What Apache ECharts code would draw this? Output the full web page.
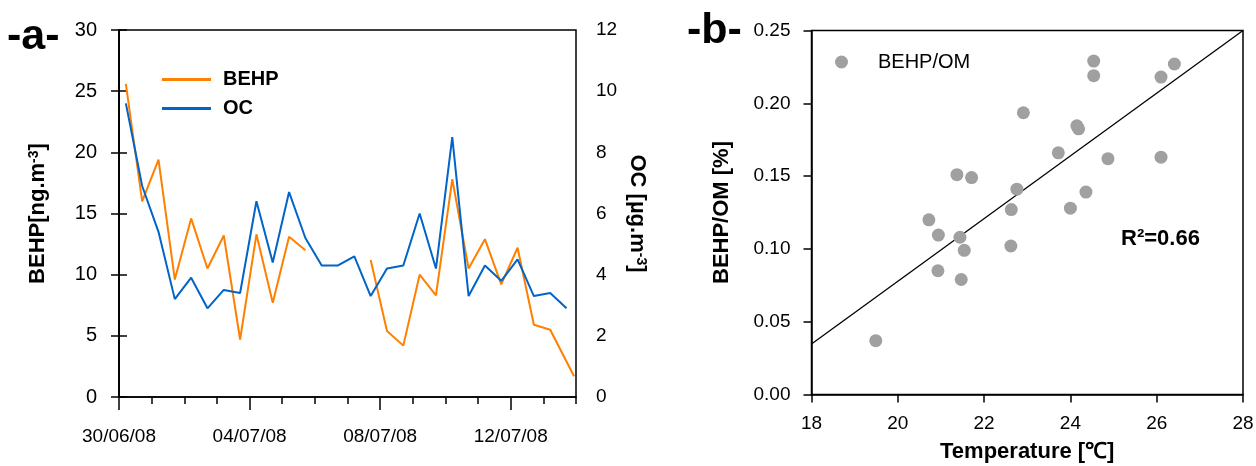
<!DOCTYPE html>
<html>
<head>
<meta charset="utf-8">
<script src="https://cdn.jsdelivr.net/npm/echarts@6/dist/echarts.min.js"></script>
<style>html,body{margin:0;padding:0;background:#fff}#c{width:1256px;height:466px}</style>
</head>
<body>
<div id="c"></div>
<script>
// ---- Panel a: time series (x in days since 30/06/08 00:00) ----
const ocDays   = [0.21,0.71,1.21,1.71,2.21,2.71,3.21,3.71,4.21,4.71,5.21,5.71,6.21,6.71,7.21,7.71,8.21,8.71,9.21,9.71,10.21,10.71,11.21,11.71,12.21,12.71,13.21,13.71];
const behpDays = [0.21,0.71,1.21,1.71,2.21,2.71,3.21,3.71,4.21,4.71,5.21,5.71,6.21,6.71,7.21,7.71,8.21,8.71,9.21,9.71,10.21,10.71,11.21,11.71,12.21,12.71,13.21,13.94];
const behpValues = [25.6,16.0,19.4,9.6,14.6,10.5,13.2,4.7,13.3,7.7,13.1,12.0,null,null,null,11.2,5.4,4.2,10.0,8.3,17.8,10.5,12.9,9.2,12.2,5.9,5.5,1.7];
const ocValues   = [9.6,6.9,5.4,3.2,3.9,2.9,3.5,3.4,6.4,4.4,6.7,5.2,4.3,4.3,4.6,3.3,4.2,4.3,6.0,4.2,8.5,3.3,4.3,3.8,4.5,3.3,3.4,2.9];
const dateTickDays = [0,4,8,12];
const dateTickLabels = ['30/06/08','04/07/08','08/07/08','12/07/08'];

// ---- Panel b: scatter ----
const temperature = [21.37,21.71,20.72,20.94,21.44,21.54,20.93,21.47,19.49,24.54,24.54,26.41,26.10,22.91,24.15,24.19,23.72,24.87,26.10,22.76,24.36,22.63,24.00,22.62];
const behpOm      = [0.151,0.149,0.120,0.1095,0.108,0.099,0.085,0.079,0.037,0.229,0.219,0.227,0.218,0.1935,0.1845,0.1825,0.166,0.162,0.163,0.141,0.139,0.127,0.128,0.102];
const fitSlope = 0.02153;
const fitIntercept = -0.3528;
const fitRange = [18, 28];
const r2Text = 'R²=0.66';

const FONT = "'Liberation Sans', Arial, sans-serif";
const black = '#000';

const behpData = behpDays.map((d,i)=>[d, behpValues[i]===null ? '-' : behpValues[i]]);
const ocData = ocDays.map((d,i)=>[d, ocValues[i]]);
const scatterData = temperature.map((t,i)=>[t, behpOm[i]]);
const fitData = fitRange.map(x=>[x, fitSlope*x + fitIntercept]);

const axisLineStyle = {show:true, lineStyle:{color:black, width:1.5}};
const tickStyle = (len, inside)=>({show:true, length:len, inside:!!inside, lineStyle:{color:black, width:1.5}});
const lbl = (margin, extra)=>Object.assign({color:black, fontSize:19, fontFamily:FONT, margin:margin}, extra||{});
const NAME_SIZE = 22;
const supRich = {sup:{fontSize:14, fontWeight:'bold', fontFamily:FONT, color:black, verticalAlign:'top'}};
const nameStyle = (extra)=>Object.assign({fontSize:NAME_SIZE, fontWeight:'bold', fontFamily:FONT, color:black}, extra||{});

const chart = echarts.init(document.getElementById('c'), null, {renderer:'canvas'});
chart.setOption({
  animation:false,
  backgroundColor:'#fff',
  grid:[
    {left:119, right:680, top:30, bottom:69, show:true, borderColor:black, borderWidth:1.5, containLabel:false, outerBoundsMode:'none'},
    {left:811.5, right:13, top:30.5, bottom:71.5, show:true, borderColor:black, borderWidth:1.5, containLabel:false, outerBoundsMode:'none'}
  ],
  legend:[
    {data:[{name:'BEHP', icon:'rect'},{name:'OC', icon:'rect'}], orient:'vertical', left:162, top:68, padding:0,
     itemWidth:49, itemHeight:3, itemGap:6,
     textStyle:{fontSize:20, fontWeight:'bold', fontFamily:FONT, color:black, padding:[0,0,0,7], lineHeight:23}},
    {data:[{name:'BEHP/OM', icon:'circle'}], left:835, top:52, padding:0, itemWidth:13, itemHeight:13,
     textStyle:{fontSize:20, fontFamily:FONT, color:black, padding:[0,0,0,25]}}
  ],
  xAxis:[
    {gridIndex:0, type:'value', min:0, max:14, interval:1, position:'bottom',
     axisLine:axisLineStyle, axisTick:tickStyle(7), axisLabel:{show:false}, splitLine:{show:false}},
    {gridIndex:0, type:'value', min:0, max:14, position:'bottom',
     axisLine:{show:false},
     axisTick:Object.assign(tickStyle(13), {customValues:dateTickDays}),
     axisLabel:lbl(30, {customValues:dateTickDays, formatter:(v)=>{const k=dateTickDays.indexOf(v);return k>=0?dateTickLabels[k]:'';}}),
     splitLine:{show:false}},
    {gridIndex:1, type:'value', min:18, max:28, interval:2,
     axisLine:axisLineStyle, axisTick:tickStyle(8), axisLabel:lbl(20), splitLine:{show:false},
     name:'Temperature [℃]', nameLocation:'middle', nameGap:46, nameTextStyle:nameStyle()}
  ],
  yAxis:[
    {gridIndex:0, type:'value', min:0, max:30, interval:5, position:'left',
     axisLine:axisLineStyle, axisTick:tickStyle(8), axisLabel:lbl(22, {fontSize:20}), splitLine:{show:false},
     name:'BEHP[ng.m{sup|-3}]', nameLocation:'middle', nameGap:70, nameRotate:90,
     nameTextStyle:nameStyle({rich:supRich})},
    {gridIndex:0, type:'value', min:0, max:12, interval:2, position:'right',
     axisLine:axisLineStyle, axisTick:tickStyle(8), axisLabel:lbl(20), splitLine:{show:false},
     name:'OC [µg.m{sup|-3}]', nameLocation:'middle', nameGap:50, nameRotate:-90,
     nameTextStyle:nameStyle({rich:supRich})},
    {gridIndex:1, type:'value', min:0, max:0.25, interval:0.05,
     axisLine:axisLineStyle, axisTick:tickStyle(8), axisLabel:lbl(21, {formatter:(v)=>v.toFixed(2)}), splitLine:{show:false},
     name:'BEHP/OM [%]', nameLocation:'middle', nameGap:79, nameRotate:90, nameTextStyle:nameStyle()}
  ],
  series:[
    {name:'BEHP', type:'line', xAxisIndex:0, yAxisIndex:0, data:behpData, symbol:'none', connectNulls:false,
     lineStyle:{color:'#ff8000', width:2}, itemStyle:{color:'#ff8000'}},
    {name:'OC', type:'line', xAxisIndex:0, yAxisIndex:1, data:ocData, symbol:'none',
     lineStyle:{color:'#0064c8', width:2}, itemStyle:{color:'#0064c8'}},
    {name:'Fit', type:'line', xAxisIndex:2, yAxisIndex:2, data:fitData, symbol:'none',
     lineStyle:{color:black, width:1.3}, z:1},
    {name:'BEHP/OM', type:'scatter', xAxisIndex:2, yAxisIndex:2, data:scatterData, symbolSize:13,
     itemStyle:{color:'#a0a0a0', opacity:1}, z:2}
  ],
  graphic:[
    {type:'text', x:7, y:37, style:{text:'-a-', font:"bold 43px "+FONT, fill:black, textVerticalAlign:'middle'}},
    {type:'text', x:687, y:31, style:{text:'-b-', font:"bold 43px "+FONT, fill:black, textVerticalAlign:'middle'}},
    {type:'text', x:1121, y:239, style:{text:r2Text, font:"bold 22px "+FONT, fill:black, textVerticalAlign:'middle'}}
  ]
});
</script>
</body>
</html>
